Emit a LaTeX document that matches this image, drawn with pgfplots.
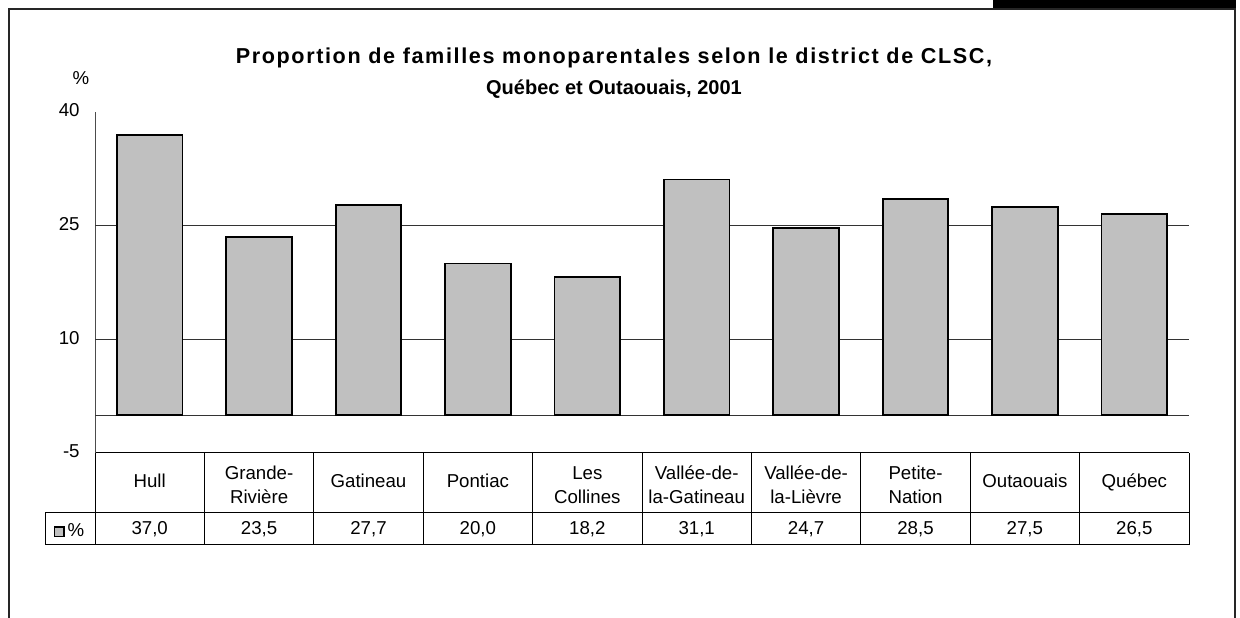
\documentclass[border=0pt]{standalone}
\usepackage{pgfplots}
\pgfplotsset{compat=1.18}
\usepackage{pgfplotstable}
\usepackage{fontspec}
\setmainfont{Liberation Sans}
\newfontfamily\titlespaced[LetterSpace=7.5]{Liberation Sans}
\definecolor{bargray}{HTML}{C0C0C0}
\pgfplotstableread{
x y
0 37.0
1 23.5
2 27.7
3 20.0
4 18.2
5 31.1
6 24.7
7 28.5
8 27.5
9 26.5
}\data
\begin{document}
\begin{tikzpicture}
\useasboundingbox (0,0) rectangle (930pt,463.5pt);
\begin{scope}[yshift=463.5pt, x=0.75pt, y=-0.75pt]
  % outer frame
  \draw[line width=1.5pt, black!85] (8.5,618) -- (8.5,9) -- (1235,9) -- (1235,618);
  \fill[black] (993,0) rectangle (1236,8.5);
  % data table
  \draw[line width=0.75pt] (45,513) -- (1189,513);
  \draw[line width=0.75pt] (45,545) -- (1189,545);
  \draw[line width=0.75pt] (45,513) -- (45,545);
  \foreach \k in {0,...,10} {
    \draw[line width=0.75pt] ({95+109.4*\k},453) -- ({95+109.4*\k},545);
  }
\end{scope}
\begin{axis}[
  at={(71.25pt,123.75pt)}, anchor=south west,
  scale only axis, width=820.5pt, height=255.75pt,
  xmin=-0.5, xmax=9.5, ymin=-5, ymax=40,
  axis lines*=left,
  x axis line style={line width=0.75pt, black},
  y axis line style={line width=0.75pt, black!70},
  ytick={-5,10,25,40},
  xtick={0,...,9},
  xticklabels={Hull, {Grande-\\Rivière}, Gatineau, Pontiac, {Les\\Collines}, {Vallée-de-\\la-Gatineau}, {Vallée-de-\\la-Lièvre}, {Petite-\\Nation}, Outaouais, Québec},
  typeset ticklabels with strut,
  major tick length=0pt,
  extra y ticks={0,10,25},
  extra y tick labels={},
  extra y tick style={grid=major, major grid style={line width=0.75pt, black!80}},
  tick label style={font=\fontsize{14}{18.5}\selectfont, text=black},
  yticklabel style={xshift=-8pt},
  xticklabel style={anchor=center, align=center, yshift=-22.5pt},
  /pgf/number format/assume math mode=true,
  clip=false,
  legend style={draw=none, fill=none, at={(-0.0225,-0.2287)}, anchor=center, inner sep=0pt, font=\fontsize{14}{16}\selectfont},
  legend image code/.code={\draw[fill=bargray, draw=black, line width=1.1pt] (0pt,-4.2pt) rectangle (7.2pt,3pt);},
]
\addplot[ybar, bar width=0.6, fill=bargray, draw=black, line width=1.3pt] table[x=x, y=y] {\data};
\addlegendentry{\%}
\addplot[forget plot, only marks, mark=none, point meta=explicit,
  nodes near coords={\pgfmathprintnumber[fixed, fixed zerofill, precision=1, use comma, assume math mode=true]{\pgfplotspointmeta}},
  every node near coord/.append style={anchor=center, font=\fontsize{14}{16}\selectfont, text=black}]
  table[x=x, y expr=-15, meta=y] {\data};
\node[font=\fontsize{14}{16}\selectfont] at (rel axis cs:-0.0128,1.0997) {\%};
\node[align=center, font=\bfseries\fontsize{16.2}{23.25}\selectfont] at (rel axis cs:0.4744,1.114)
  {{\titlespaced Proportion de familles monoparentales selon le district de CLSC,}\\
   {\fontsize{15}{23.25}\selectfont Québec et Outaouais, 2001}};
\end{axis}
\end{tikzpicture}
\end{document}
